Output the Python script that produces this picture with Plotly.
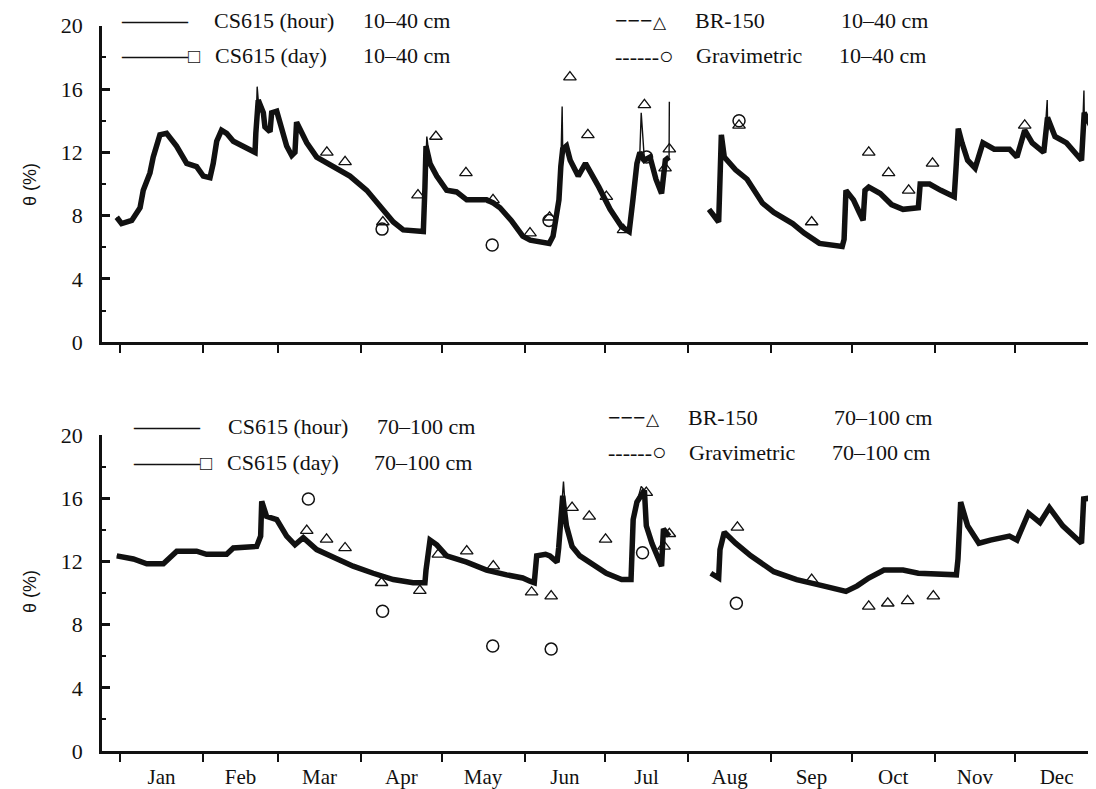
import plotly.graph_objects as go

# ---------------- data (day of year, volumetric water content %) ----------------
MONTHS = ["Jan", "Feb", "Mar", "Apr", "May", "Jun", "Jul", "Aug", "Sep", "Oct", "Nov", "Dec"]
MONTH_START = [0, 31, 59, 90, 120, 151, 181, 212, 243, 273, 304, 334]
MONTH_MID = [15.5, 45, 74.5, 105, 135.5, 166, 196.5, 227.5, 258, 288.5, 319, 349.5]
Y_TICKS = [0, 4, 8, 12, 16, 20]

# 10-40 cm, CS615 daily (thick line); None = missing record
TOP_DAY_X = [-1.2, 0.6, 4.4, 7.5, 8.7, 11.2, 12.4, 14.9, 17.4, 21.1, 24.9, 28.6, 31.1, 33.6, 34.8,
             36.1, 37.9, 39.8, 42.3, 46.0, 50.4, 50.7, 51.6, 53.5, 54.1, 56.0, 56.6, 58.5, 59.7,
             62.2, 64.1, 65.3, 65.9, 67.2, 69.7, 73.4, 79.6, 85.8, 92.1, 98.2, 102.0, 105.7,
             113.2, 113.8, 114.2, 115.7, 118.2, 121.9, 125.6, 129.4, 136.8, 139.3, 141.8, 146.0,
             150.3, 153.1, 160.2, 161.6, 162.4, 163.0, 163.8, 164.5, 165.2, 166.6, 168.0, 171.0,
             173.7, 178.7, 182.9, 187.2, 190.0, 191.4, 192.9, 194.0, 195.7, 197.8, 200.0, 202.1,
             203.5, 204.9, None,
             219.8, 223.4, 223.9, 224.4, 225.5, 229.7, 234.0, 239.7, 244.0, 251.0, 255.3, 261.0,
             269.5, 270.2, 270.9, 273.7, 275.9, 277.3, 278.0, 279.4, 283.7, 287.9, 292.2, 297.9,
             298.6, 302.1, 306.3, 311.3, 312.0, 312.8, 314.2, 316.3, 319.1, 322.0, 326.2, 331.9,
             334.7, 337.6, 340.4, 344.7, 346.1, 348.9, 353.2, 358.8, 359.8, 364.2]
TOP_DAY_Y = [7.9, 7.5, 7.7, 8.5, 9.6, 10.7, 11.7, 13.1, 13.2, 12.4, 11.3, 11.1, 10.5, 10.4, 11.3,
             12.7, 13.4, 13.2, 12.7, 12.4, 12.0, 13.2, 15.3, 14.5, 13.6, 13.3, 14.5, 14.6, 13.8,
             12.4, 11.8, 12.0, 13.9, 13.4, 12.6, 11.7, 11.1, 10.5, 9.6, 8.4, 7.6, 7.1,
             7.0, 9.8, 12.4, 11.3, 10.5, 9.6, 9.5, 9.0, 9.0, 8.8, 8.5, 7.7,
             6.7, 6.45, 6.25, 6.7, 7.7, 8.6, 9.0, 11.1, 12.2, 12.4, 11.5, 10.5,
             11.3, 9.8, 8.4, 7.3, 7.0, 9.0, 11.3, 12.0, 11.5, 11.7, 10.3, 9.4,
             11.5, 11.7, None,
             8.4, 7.6, 10.3, 13.1, 11.7, 10.9, 10.3, 8.8, 8.2, 7.5, 6.9, 6.25,
             6.05, 6.5, 9.6, 9.0, 8.2, 7.7, 9.6, 9.8, 9.4, 8.7, 8.4, 8.5,
             10.0, 10.0, 9.6, 9.2, 11.1, 13.5, 12.6, 11.5, 11.0, 12.6, 12.2, 12.2,
             11.7, 13.4, 12.6, 12.0, 14.2, 13.0, 12.6, 11.5, 14.5, 13.0]
# short hourly peaks (thin line) 10-40 cm
TOP_SPIKE_X = [51.2, 114.5, 165.0, 194.5, 205.0, 346.0, 359.7]
TOP_SPIKE_Y = [16.15, 13.0, 14.9, 14.5, 15.2, 15.3, 15.9]

TOP_BR_X = [77.2, 84.0, 98.1, 111.2, 117.9, 129.1, 139.2, 153.0, 160.3, 167.9, 174.6, 181.5,
            187.9, 195.7, 203.4, 205.0, 231.0, 258.1, 279.4, 286.8, 294.3, 303.2, 337.6]
TOP_BR_Y = [12.0, 11.4, 7.6, 9.3, 13.0, 10.7, 9.0, 6.9, 7.9, 16.75, 13.1, 9.2,
            7.1, 15.0, 11.0, 12.2, 13.7, 7.6, 12.0, 10.7, 9.6, 11.3, 13.7]
TOP_GRAV_X = [97.8, 138.9, 160.1, 196.5, 231.0]
TOP_GRAV_Y = [7.15, 6.15, 7.7, 11.7, 14.0]

# 70-100 cm
BOT_DAY_X = [-1.2, 5.0, 10.0, 16.2, 18.7, 21.2, 28.6, 32.3, 39.8, 42.3, 51.0, 52.5, 52.9, 54.7,
             58.5, 62.2, 65.3, 68.4, 73.4, 79.6, 87.0, 94.5, 102.0, 109.4, 113.8, 114.2, 115.7,
             118.2, 121.9, 129.4, 136.8, 144.3, 150.3, 153.0, 154.6, 155.5, 158.8, 160.4, 163.1,
             163.7, 165.2, 166.6, 168.7, 171.6, 175.9, 181.5, 187.2, 190.7, 191.5, 192.9, 195.7,
             196.4, 198.5, 202.1, 202.8, 204.9, None,
             220.5, 223.4, 223.9, 225.5, 229.7, 235.4, 244.0, 252.5, 262.4, 270.9, 275.1, 279.4,
             285.1, 292.2, 297.9, 312.1, 312.7, 313.7, 316.3, 320.5, 324.8, 331.9, 334.7, 339.0,
             343.3, 346.8, 351.8, 358.8, 359.6, 361.7, 364.2]
BOT_DAY_Y = [12.35, 12.15, 11.85, 11.85, 12.25, 12.65, 12.65, 12.45, 12.45, 12.85, 12.95, 13.6, 15.8,
             14.85, 14.65, 13.6, 13.05, 13.5, 12.75, 12.25, 11.7, 11.25, 10.85, 10.65, 10.65, 11.45,
             13.35, 13.05, 12.35, 11.95, 11.45, 11.15, 10.95, 10.75, 10.65, 12.35, 12.45, 12.35,
             11.95, 12.85, 16.15, 14.25, 12.95, 12.35, 11.85, 11.25, 10.85, 10.85, 14.65, 15.75,
             16.5, 14.25, 13.15, 11.7, 14.05, 13.6, None,
             11.25, 10.95, 12.75, 13.85, 13.15, 12.35, 11.35, 10.85, 10.45, 10.1, 10.45, 10.95,
             11.45, 11.45, 11.25, 11.15, 12.15, 15.75, 14.25, 13.15, 13.35, 13.6, 13.35, 15.05,
             14.45, 15.4, 14.25, 13.15, 15.95, 16.0, 15.3]
BOT_SPIKE_X = [165.5, 194.5]
BOT_SPIKE_Y = [17.05, 16.75]

BOT_BR_X = [69.7, 77.1, 84.0, 97.6, 111.9, 118.8, 129.4, 139.3, 153.6, 160.9, 168.7, 175.1,
            181.2, 196.4, 203.0, 205.0, 230.4, 258.1, 279.4, 286.5, 293.9, 303.5]
BOT_BR_Y = [13.95, 13.4, 12.85, 10.65, 10.15, 12.45, 12.65, 11.7, 10.05, 9.8, 15.4, 14.85,
            13.4, 16.35, 12.95, 13.75, 14.15, 10.85, 9.15, 9.35, 9.5, 9.8]
BOT_GRAV_X = [70.3, 98.0, 139.1, 160.9, 195.0, 230.0]
BOT_GRAV_Y = [15.95, 8.85, 6.65, 6.45, 12.55, 9.35]

DEPTH_TOP = "10–40 cm"
DEPTH_BOT = "70–100 cm"


def hourly(xs, ys, sx, sy):
    """Merge daily record with the short hourly peaks, keeping missing-record breaks."""
    segs, cur = [], []
    for x, y in zip(xs, ys):
        if x is None:
            segs.append(cur)
            cur = []
        else:
            cur.append((x, y))
    segs.append(cur)
    ox, oy = [], []
    for i, seg in enumerate(segs):
        lo, hi = seg[0][0], seg[-1][0]
        extra = [(a, b) for a, b in zip(sx, sy) if lo - 0.01 <= a <= hi + 0.5]
        pts = sorted(seg + extra)
        if i:
            ox.append(None)
            oy.append(None)
        ox += [p[0] for p in pts]
        oy += [p[1] for p in pts]
    return ox, oy


# page is shown with an 8 px body margin -> figure sized/placed to compensate
PAGE_PAD = 8
W, H = 1096 - PAGE_PAD, 789 - PAGE_PAD
ML, MR, MT, MB = 102 - PAGE_PAD, 0, 0, 789 - 751
PW, PH = W - ML - MR, H - MT - MB


def px(x):
    """page pixel x -> paper fraction"""
    return (x - PAGE_PAD - ML) / PW


def py(y):
    """page pixel y -> paper fraction"""
    return (MT + PH - (y - PAGE_PAD)) / PH


SERIF = "Liberation Serif"
INK = "#111111"

fig = go.Figure()

panels = [
    ("x", "y", TOP_DAY_X, TOP_DAY_Y, TOP_SPIKE_X, TOP_SPIKE_Y, TOP_BR_X, TOP_BR_Y, TOP_GRAV_X, TOP_GRAV_Y),
    ("x2", "y2", BOT_DAY_X, BOT_DAY_Y, BOT_SPIKE_X, BOT_SPIKE_Y, BOT_BR_X, BOT_BR_Y, BOT_GRAV_X, BOT_GRAV_Y),
]
for xa, ya, dx, dy, sx, sy, bx, by, gx, gy in panels:
    hx, hy = hourly(dx, dy, sx, sy)
    fig.add_trace(go.Scatter(x=hx, y=hy, mode="lines", line=dict(color=INK, width=1.4),
                             xaxis=xa, yaxis=ya, showlegend=False, name="CS615 (hour)"))
    fig.add_trace(go.Scatter(x=dx, y=dy, mode="lines", line=dict(color=INK, width=5.5),
                             xaxis=xa, yaxis=ya, showlegend=False, name="CS615 (day)"))
    fig.add_trace(go.Scatter(x=bx, y=by, mode="markers",
                             marker=dict(symbol="triangle-up-open", size=11, color=INK, line=dict(width=1.3)),
                             xaxis=xa, yaxis=ya, showlegend=False, name="BR-150"))
    fig.add_trace(go.Scatter(x=gx, y=gy, mode="markers",
                             marker=dict(symbol="circle-open", size=12, color=INK, line=dict(width=1.5)),
                             xaxis=xa, yaxis=ya, showlegend=False, name="Gravimetric"))

xcommon = dict(range=[-6.7, 364.2], showgrid=False, zeroline=False, showline=True, automargin=False,
               linecolor=INK, linewidth=2.5, ticks="", tickmode="array",
               minor=dict(tickmode="array", tickvals=MONTH_START, ticks="outside", ticklen=8,
                          tickwidth=2, tickcolor=INK, showgrid=False),
               tickfont=dict(family=SERIF, size=21, color=INK), ticklabelstandoff=5)
ycommon = dict(range=[0, 20], tickvals=Y_TICKS, showgrid=False, zeroline=False, showline=True,
               automargin=False,
               linecolor=INK, linewidth=2.5, ticks="inside", ticklen=8, tickwidth=2.5, tickcolor=INK,
               minor=dict(dtick=2, ticks="inside", ticklen=4, tickwidth=2, tickcolor=INK, showgrid=False),
               tickfont=dict(family=SERIF, size=22, color=INK), ticklabelstandoff=12)

fig.update_layout(
    width=W, height=H, margin=dict(l=ML, r=MR, t=MT, b=MB, autoexpand=False),
    paper_bgcolor="white", plot_bgcolor="white", showlegend=False,
    font=dict(family=SERIF, color=INK),
    xaxis=dict(xcommon, domain=[0, 1], anchor="y", tickvals=MONTH_MID, ticktext=[""] * 12),
    yaxis=dict(ycommon, domain=[py(342.3), py(25.7)], anchor="x"),
    xaxis2=dict(xcommon, domain=[0, 1], anchor="y2", tickvals=MONTH_MID, ticktext=MONTHS),
    yaxis2=dict(ycommon, domain=[0, py(435.0)], anchor="x2"),
)

ann = []


def label(x, y, text, size=22, family=SERIF, **kw):
    ann.append(dict(x=px(x), y=py(y), xref="paper", yref="paper", text=text, showarrow=False,
                    xanchor="left", yanchor="middle", font=dict(family=family, size=size, color=INK), **kw))


LINE = "<b>———</b>"
TRI = "<b>−−−</b><span style='font-size:17px'>△</span>"
CIR = "------<span style='font-size:24px'>○</span>"
SQ = "<b>———</b><span style='font-size:20px'>□</span>"

# legend, upper panel
label(119, 21, LINE)
label(212, 21, "CS615 (hour)")
label(361, 21, DEPTH_TOP)
label(119, 56, SQ)
label(213, 56, "CS615 (day)")
label(361, 56, DEPTH_TOP)
label(613, 21, TRI)
label(693, 21, "BR-150")
label(839, 21, DEPTH_TOP)
label(613, 56, CIR)
label(694, 56, "Gravimetric")
label(837, 56, DEPTH_TOP)
# legend, lower panel
label(131, 426, LINE)
label(226, 426, "CS615 (hour)")
label(375, 426, DEPTH_BOT)
label(131, 462, SQ)
label(225, 462, "CS615 (day)")
label(372, 462, DEPTH_BOT)
label(606, 417, TRI)
label(686, 417, "BR-150")
label(832, 417, DEPTH_BOT)
label(606, 452, CIR)
label(687, 452, "Gravimetric")
label(830, 452, DEPTH_BOT)

# y titles
for yc in (185, 592):
    ann.append(dict(x=px(30), y=py(yc), xref="paper", yref="paper", text="θ (%)", showarrow=False,
                    textangle=-90, xanchor="center", yanchor="middle",
                    font=dict(family="Liberation Sans", size=18, color=INK)))

fig.update_layout(annotations=ann)
fig.write_html("out.html")
